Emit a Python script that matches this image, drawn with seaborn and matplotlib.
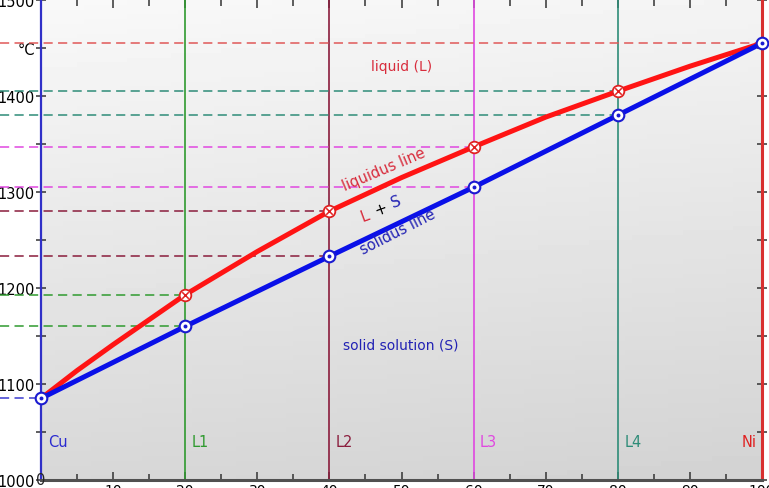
import matplotlib
matplotlib.use("Agg")
import matplotlib.pyplot as plt
import numpy as np
import pandas as pd
import seaborn as sns

# Cu-Ni phase diagram, composition in % Ni
comp = [0, 20, 40, 60, 80, 100]
liquidus_T = [1085, 1193, 1280, 1347, 1405, 1455]
solidus_T = [1085, 1160, 1233, 1305, 1380, 1455]
# extra readings along the curved liquidus
curve_x = [0, 5, 10, 15, 20, 30, 40, 50, 60, 70, 80, 90, 100]
curve_T = [1085, 1114, 1141, 1167, 1193, 1238, 1280, 1315, 1347, 1378, 1405, 1431, 1455]

line_names = ["L1", "L2", "L3", "L4"]
line_x = [20, 40, 60, 80]
line_colors = ["#2f9a2f", "#8a1c3c", "#e048e0", "#2e8c78"]

y_ticks = [1000, 1100, 1200, 1300, 1400, 1450, 1500]
y_labels = ["1000", "1100", "1200", "1300", "1400", "°C", "1500"]
x_ticks = list(range(0, 101, 10))
x_labels = [""] + [str(v) for v in x_ticks[1:]]

sns.set_style("white")
plt.rcParams["font.family"] = ["DejaVu Sans"]

W, H = 769, 489
fig = plt.figure(figsize=(W / 100, H / 100), dpi=100)
ax = fig.add_axes([41 / W, 8 / H, 721 / W, 480 / H])
ax.set_xlim(0, 100)
ax.set_ylim(1000, 1500)

# gradient background, light at the top, grey at the bottom
grad = np.linspace(0, 1, 100).reshape(-1, 1) + np.linspace(0, 0.15, 100).reshape(1, -1)
shade = 0.975 - 0.13 * grad
ax.imshow(shade, cmap="gray", vmin=0, vmax=1, extent=[0, 100, 1000, 1500],
          aspect="auto", origin="upper", zorder=0)

xpad = -41 / 7.21  # left edge of figure in data units

# vertical composition lines + dashed temperature guides
for name, xv, col, tl, ts in zip(line_names, line_x, line_colors, liquidus_T[1:5], solidus_T[1:5]):
    ax.axvline(xv, color=col, lw=1.2, zorder=2)
    for t in (tl, ts):
        ax.plot([xpad, xv], [t, t], color=col, lw=1.1, ls=(0, (6, 3.5)), clip_on=False, zorder=2)
    ax.text(xv + 0.9, 1040, name, color=col, fontsize=10.5, va="center", ha="left", zorder=5)

ax.plot([xpad, 100], [1455, 1455], color="#e05858", lw=1.1, ls=(0, (6, 3.5)), clip_on=False, zorder=2)
ax.plot([xpad, 0], [1085, 1085], color="#3a3ad0", lw=1.1, ls=(0, (6, 3.5)), clip_on=False, zorder=2)

# liquidus and solidus
df_liq = pd.DataFrame({"x": curve_x, "T": curve_T})
df_sol = pd.DataFrame({"x": comp, "T": solidus_T})
sns.lineplot(data=df_liq, x="x", y="T", color="#ff1414", lw=3.6, ax=ax, zorder=3,
             solid_joinstyle="round", solid_capstyle="round")
sns.lineplot(data=df_sol, x="x", y="T", color="#0a10e8", lw=3.6, ax=ax, zorder=3,
             solid_joinstyle="round", solid_capstyle="round")

# point markers
liq_pts = pd.DataFrame({"x": comp[1:5], "T": liquidus_T[1:5]})
sol_pts = pd.DataFrame({"x": comp, "T": solidus_T})
sns.scatterplot(data=liq_pts, x="x", y="T", s=70, marker="o", facecolor="white",
                edgecolor="#e02020", linewidth=1.3, ax=ax, zorder=4, clip_on=False)
sns.scatterplot(data=liq_pts, x="x", y="T", s=22, marker="x", color="#e02020",
                linewidth=1.1, ax=ax, zorder=5, clip_on=False)
sns.scatterplot(data=sol_pts, x="x", y="T", s=70, marker="o", facecolor="white",
                edgecolor="#1a1ad0", linewidth=1.5, ax=ax, zorder=4, clip_on=False)
sns.scatterplot(data=sol_pts, x="x", y="T", s=8, marker="o", color="#1a1ad0",
                linewidth=0, ax=ax, zorder=5, clip_on=False)

# region and line annotations
ax.text(50, 1431, "liquid (L)", color="#d82c3c", fontsize=10, ha="center", va="center")
ax.text(49.9, 1141, "solid solution (S)", color="#2222b4", fontsize=10, ha="center", va="center")
ax.text(47.6, 1324, "liquidus line", color="#d82c3c", fontsize=10.5, ha="center", va="center",
        rotation=23)
ax.text(49.5, 1259, "solidus line", color="#2222b4", fontsize=10.5, ha="center", va="center",
        rotation=27)
ax.text(44.9, 1276, "L", color="#d82c3c", fontsize=11, ha="center", va="center", rotation=20)
ax.text(47.2, 1283, "+", color="black", fontsize=11, ha="center", va="center", rotation=20)
ax.text(49.3, 1290, "S", color="#2222b4", fontsize=11, ha="center", va="center", rotation=20)
ax.text(1.0, 1040, "Cu", color="#2a2ad0", fontsize=10.5, ha="left", va="center")
ax.text(99.2, 1040, "Ni", color="#e02020", fontsize=10.5, ha="right", va="center")

# ticks and spines
ax.set_xticks(x_ticks)
ax.set_xticklabels(x_labels, fontsize=10)
ax.set_xticks(list(range(5, 100, 10)), minor=True)
ax.set_yticks(y_ticks)
ax.set_yticklabels(y_labels, fontsize=10.5)
ax.set_yticks([1050, 1150, 1250, 1350], minor=True)
ax.tick_params(axis="x", which="major", direction="in", length=6, width=1.1, top=True,
               bottom=True, pad=2, colors="#333333", labelcolor="black")
ax.tick_params(axis="x", which="minor", direction="in", length=4, width=1.1, top=True,
               bottom=True, colors="#333333")
ax.tick_params(axis="y", which="both", direction="inout", length=7, width=1.1, left=True,
               right=True, pad=1, colors="#333333", labelcolor="black")
ax.text(0, 1000, "0", fontsize=10.5, ha="center", va="center", clip_on=False)
ax.set_xlabel("")
ax.set_ylabel("")

ax.spines["left"].set_color("#3030c8")
ax.spines["left"].set_linewidth(1.6)
ax.spines["right"].set_color("#d83030")
ax.spines["right"].set_linewidth(2.2)
ax.spines["bottom"].set_color("#505050")
ax.spines["bottom"].set_linewidth(2.2)
ax.spines["top"].set_visible(False)

fig.savefig("out.png", dpi=100)
